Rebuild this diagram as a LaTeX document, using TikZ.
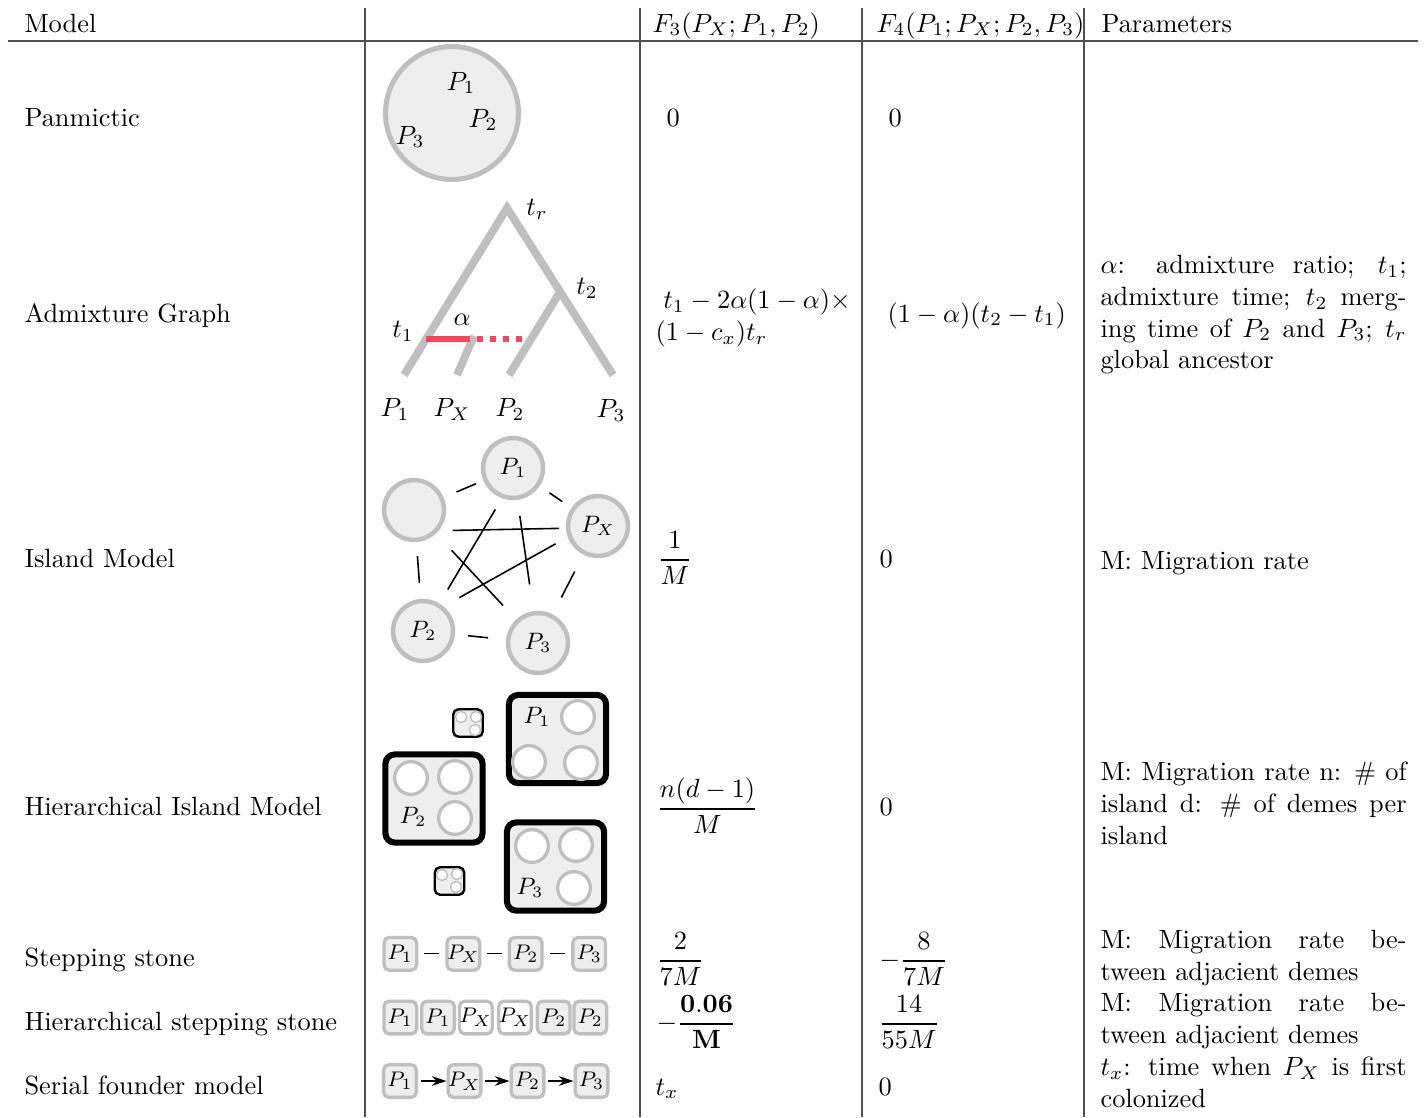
\documentclass[tikz,border=0pt]{standalone}
\usepackage{amsmath}
\usetikzlibrary{arrows.meta}
\definecolor{demegray}{RGB}{191,191,191}
\definecolor{demefill}{RGB}{238,238,238}
\definecolor{admixred}{RGB}{242,72,92}
\definecolor{rulegray}{RGB}{80,80,80}

\begin{document}
\begin{tikzpicture}[x=0.379pt,y=-0.379pt,
  rule/.style={rulegray,line width=0.55pt},
  txt/.style={inner sep=0pt,anchor=base west},
  parcell/.style={inner sep=0pt,anchor=north west,text width=116pt,align=justify},
  branch/.style={demegray,line width=3pt},
  admix/.style={admixred,line width=2.3pt},
  island/.style={circle,draw=demegray,fill=demefill,line width=1.7pt,minimum size=22.7pt,inner sep=0pt,font=\small},
  link/.style={black,line width=0.6pt},
  islandbox/.style={draw=black,fill=demefill,line width=2.3pt,rounded corners=3.5pt,minimum width=36.8pt,minimum height=33.4pt},
  smallbox/.style={draw=black,fill=demefill,line width=0.9pt,rounded corners=2pt,minimum width=11.2pt,minimum height=10.4pt},
  deme/.style={circle,draw=demegray,fill=white,line width=1.25pt,minimum size=12.4pt,inner sep=0pt},
  tinydeme/.style={circle,draw=demegray,fill=white,line width=0.5pt,minimum size=4.2pt,inner sep=0pt},
  stone/.style={draw=demegray,fill=demefill,line width=1.25pt,rounded corners=2pt,minimum size=12.4pt,inner sep=0pt,font=\footnotesize},
  stonelink/.style={black,line width=0.5pt,shorten <=2.3pt,shorten >=2.3pt},
  founder/.style={-{Stealth[length=5.5pt,width=3.6pt]},black,line width=0.7pt,shorten <=1pt},
]
\useasboundingbox (0,0) rectangle (1425,1117);
% table rules
\draw[rule] (8,41) -- (1418,41);
\draw[rule] (365,8) -- (365,1117);
\draw[rule] (640,8) -- (640,1117);
\draw[rule] (862,8) -- (862,1117);
\draw[rule] (1084,8) -- (1084,1117);
% header
\node[txt] (hModel) at (24,32) {Model};
\node[txt] (hF3) at (652,32) {$F_3(P_X;P_1,P_2)$};
\node[txt] (hF4) at (876,32) {$F_4(P_1;P_X;P_2,P_3)$};
\node[txt] (hPar) at (1101,32) {Parameters};
% model names
\node[txt] (mPan) at (24,126) {Panmictic};
\node[txt] (mAdm) at (24,322) {Admixture Graph};
\node[txt] (mIsl) at (24,567) {Island Model};
\node[txt] (mHis) at (24,815) {Hierarchical Island Model};
\node[txt] (mSst) at (24,966) {Stepping stone};
\node[txt] (mHst) at (24,1030) {Hierarchical stepping stone};
\node[txt] (mSfm) at (24,1094) {Serial founder model};

% panmictic
\node[circle,draw=demegray,fill=demefill,line width=1.9pt,minimum size=50.4pt] (pan) at (452,113) {};
\node (panP1) at (461,83) {$P_1$};
\node (panP2) at (483,120) {$P_2$};
\node (panP3) at (410,137) {$P_3$};

% admixture graph
\coordinate (tr) at (507,208);
\coordinate (t2) at (560,292);
\coordinate (l1) at (404,375);
\coordinate (lx) at (457,375);
\coordinate (l2) at (509,375);
\coordinate (l3) at (613,375);
\coordinate (ax) at (474,336);
\coordinate (a1) at (426,339);
\coordinate (a2) at (470,339);
\coordinate (a3) at (477,339);
\coordinate (a4) at (523,339);
\draw[branch] (l1) -- (tr) -- (l3);
\draw[branch] (t2) -- (l2);
\draw[branch] (ax) -- (lx);
\draw[admix] (a1) -- (a2);
\draw[admix,dash pattern=on 2.4pt off 2.5pt] (a3) -- (a4);
\node (ltr) at (537,209) {$t_r$};
\node (lt2) at (587,288) {$t_2$};
\node (lt1) at (403,331) {$t_1$};
\node (lal) at (462,320) {$\alpha$};
\node (lP1) at (395,409) {$P_1$};
\node (lPX) at (452,409) {$P_X$};
\node (lP2) at (510,409) {$P_2$};
\node (lP3) at (611,410) {$P_3$};

% island model
\node[island] (isl0) at (414,510) {};
\node[island] (islP1) at (513,468) {$P_1$};
\node[island] (islPX) at (598,526) {$P_X$};
\node[island] (islP2) at (423,631) {$P_2$};
\node[island] (islP3) at (538,643) {$P_3$};
\draw[link,shorten <=5.3pt,shorten >=3pt] (isl0) -- (islP1);
\draw[link,shorten <=4.5pt,shorten >=4.2pt] (islP1) -- (islPX);
\draw[link,shorten <=7.2pt,shorten >=7.2pt] (islPX) -- (islP3);
\draw[link,shorten <=6.8pt,shorten >=4.9pt] (islP3) -- (islP2);
\draw[link,shorten <=6.1pt,shorten >=5.3pt] (islP2) -- (isl0);
\draw[link,shorten <=5.3pt,shorten >=2.7pt] (isl0.-40) -- (islPX.184);
\draw[link,shorten <=8.7pt,shorten >=7.2pt] (isl0) -- (islP3);
\draw[link,shorten <=4.9pt,shorten >=6.1pt] (islP1.-110) -- (islP2);
\draw[link,shorten <=6.1pt,shorten >=10.2pt] (islP1) -- (islP3);
\draw[link,shorten <=5.3pt,shorten >=6.8pt] (islPX.200) -- (islP2.50);

% hierarchical island model
\node[islandbox] (hiP1) at (557.5,739) {};
\node[islandbox] (hiP2) at (434,798.5) {};
\node[islandbox] (hiP3) at (555.5,866.5) {};
\node[smallbox] (hiS1) at (468,723) {};
\node[smallbox] (hiS2) at (449.5,881) {};
\node[deme] (hiP1a) at (578,717) {};
\node[deme] (hiP1b) at (529,762) {};
\node[deme] (hiP1c) at (581,763) {};
\node[deme] (hiP2a) at (411,778) {};
\node[deme] (hiP2b) at (455,777) {};
\node[deme] (hiP2c) at (455,818) {};
\node[deme] (hiP3a) at (532,846) {};
\node[deme] (hiP3b) at (576,845) {};
\node[deme] (hiP3c) at (574,888) {};
\node[tinydeme] (hiS1a) at (461,717) {};
\node[tinydeme] (hiS1b) at (476,717) {};
\node[tinydeme] (hiS1c) at (475,730) {};
\node[tinydeme] (hiS2a) at (442,875) {};
\node[tinydeme] (hiS2b) at (457,874) {};
\node[tinydeme] (hiS2c) at (456,887) {};
\node[font=\small] (hiL1) at (537,717) {$P_1$};
\node[font=\small] (hiL2) at (413,817) {$P_2$};
\node[font=\small] (hiL3) at (530,888) {$P_3$};

% stepping stone
\node[stone] (ssP1) at (400.3,953.8) {$P_1$};
\node[stone] (ssPX) at (463.3,953.8) {$P_X$};
\node[stone] (ssP2) at (525.7,953.8) {$P_2$};
\node[stone] (ssP3) at (589.2,953.8) {$P_3$};
\draw[stonelink] (ssP1) -- (ssPX);
\draw[stonelink] (ssPX) -- (ssP2);
\draw[stonelink] (ssP2) -- (ssP3);

% hierarchical stepping stone
\node[stone] (hsA) at (400.3,1017.5) {$P_1$};
\node[stone] (hsB) at (438,1017.5) {$P_1$};
\node[stone,fill=white] (hsC) at (475.8,1017.5) {$P_X$};
\node[stone,fill=white] (hsD) at (515,1017.5) {$P_X$};
\node[stone] (hsE) at (553.7,1017.5) {$P_2$};
\node[stone] (hsF) at (590.3,1017.5) {$P_2$};

% serial founder
\node[stone] (sfP1) at (400,1081) {$P_1$};
\node[stone] (sfPX) at (464.5,1081) {$P_X$};
\node[stone] (sfP2) at (527.5,1081) {$P_2$};
\node[stone] (sfP3) at (591.5,1081) {$P_3$};
\draw[founder] (sfP1) -- (sfPX);
\draw[founder] (sfPX) -- (sfP2);
\draw[founder] (sfP2) -- (sfP3);

% F3 and F4 columns
\node[txt] (f3Pan) at (666,126) {0};
\node[txt] (f4Pan) at (888,126) {0};
\node[anchor=north west,inner sep=0pt,align=left] (f3Adm) at (655,286) {\strut\hspace*{3pt}$t_1-2\alpha(1-\alpha)\times$\\$(1-c_x)t_r$};
\node[txt] (f4Adm) at (887,322) {$(1-\alpha)(t_2-t_1)$};
\node[txt] (f3Isl) at (657,566.6) {$\dfrac{1}{M}$};
\node[txt] (f4Isl) at (879,567) {0};
\node[txt] (f3His) at (656,815.6) {$\dfrac{n(d-1)}{M}$};
\node[txt] (f4His) at (879,815) {0};
\node[txt] (f3Sst) at (656,967.6) {$\dfrac{2}{7M}$};
\node[txt] (f4Sst) at (879,967.6) {$-\dfrac{8}{7M}$};
\node[txt] (f3Hst) at (656,1030.6) {$-\dfrac{\mathbf{0.06}}{\mathbf{M}}$};
\node[txt] (f4Hst) at (878,1030.6) {$\dfrac{14}{55M}$};
\node[txt] (f3Sfm) at (655,1095) {$t_x$};
\node[txt] (f4Sfm) at (878,1095) {0};

% parameters
\node[parcell] (pAdm) at (1100,251) {\strut$\alpha$: admixture ratio; $t_1$;\linebreak admixture time; $t_2$ merg-\linebreak ing time of $P_2$ and $P_3$; $t_r$\linebreak global ancestor};
\node[parcell] (pIsl) at (1100,547) {\strut M: Migration rate};
\node[parcell] (pHis) at (1100,758) {\strut M: Migration rate n: \# of\linebreak island d: \# of demes per\linebreak island};
\node[parcell] (pSst) at (1100,926) {\strut M: Migration rate be-\linebreak tween adjacient demes};
\node[parcell] (pHst) at (1100,989) {\strut M: Migration rate be-\linebreak tween adjacient demes};
\node[parcell] (pSfm) at (1100,1053) {\strut $t_x$: time when $P_X$ is first\linebreak colonized};
\end{tikzpicture}
\end{document}
